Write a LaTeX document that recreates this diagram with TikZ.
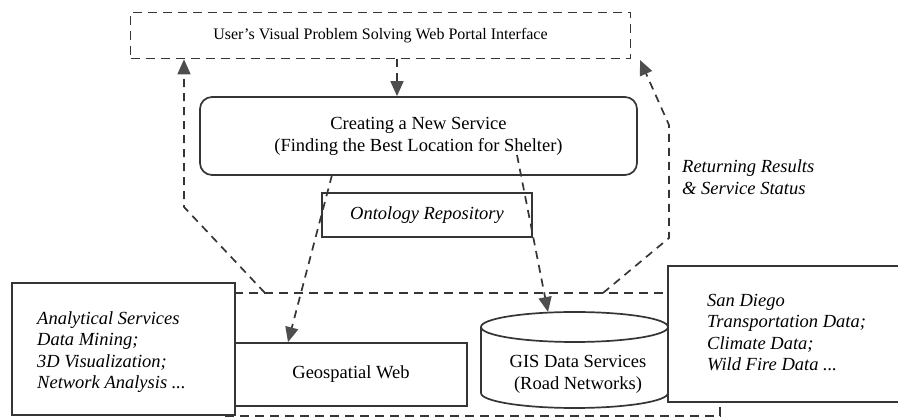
\documentclass[tikz,border=0pt]{standalone}
\usepackage{fontspec}
\setmainfont{Liberation Serif}
\usetikzlibrary{arrows.meta}

\definecolor{linecolor}{HTML}{353535}
\definecolor{tipcolor}{HTML}{4e4e4e}
\tikzstyle{box}=[
  draw=linecolor,
  fill=white,
  line width=1.7pt,
  inner sep=0pt,
  font=\fontsize{18.5}{22}\selectfont,
  align=center,
  ]
\tikzstyle{dashbox}=[ box, fill=none, dash pattern=on 9pt off 6pt ]
\tikzstyle{itext}=[ inner sep=0pt, anchor=west, align=left, font=\fontsize{18.5}{21.5}\selectfont\itshape ]
\tikzstyle{dashlink}=[ draw=linecolor, line width=1.7pt, dash pattern=on 8pt off 6pt ]
\tikzstyle{flow}=[ dashlink, -{Triangle[length=15pt,width=13pt,color=tipcolor]} ]

\begin{document}
\begin{tikzpicture}[x=1pt, y=1pt]
    \useasboundingbox (0,0) rectangle (898,-419);

    \node[dashbox, minimum width=500, minimum height=46, font=\fontsize{16}{20}\selectfont] (portal) at (380.5,-35.5) {User's Visual Problem Solving Web Portal Interface};
    \node[box, rounded corners=12, minimum width=437, minimum height=78] (service) at (418.5,-136) {Creating a New Service\\(Finding the Best Location for Shelter)};
    \coordinate (down) at (397,-59);
    \draw[flow] (down) -- (down |- service.north);

    \node[dashbox, minimum width=495, minimum height=123] (webframe) at (472.5,-354.5) {};

    \coordinate (lret1) at (265,-293);
    \coordinate (lret2) at (184,-207);
    \draw[flow] (lret1) -- (lret2) -- (lret2 |- portal.south);

    \coordinate (rret1) at (603,-293);
    \coordinate (rret2) at (669,-238);
    \coordinate (rret3) at (669,-125);
    \coordinate (rret4) at (640,-60);
    \draw[flow] (rret1) -- (rret2) -- (rret3) -- (rret4);
    \node[itext] (status) at (682,-177) {Returning Results\\\& Service Status};

    \node[box, minimum width=223, minimum height=132] (analytic) at (123.5,-349) {};
    \node[itext] (analytictext) at (37,-352) {Analytical Services\\Data Mining;\\3D Visualization;\\Network Analysis ...};

    \node[box, minimum width=232, minimum height=63] (geo) at (351,-374.5) {Geospatial Web};

    \fill[white] (481,-327) -- (481,-393) arc[start angle=180, end angle=360, x radius=93.5, y radius=15] -- (668,-327) -- cycle;
    \draw[draw=linecolor, line width=1.7pt] (481,-327) -- (481,-393) arc[start angle=180, end angle=360, x radius=93.5, y radius=15] -- (668,-327);
    \draw[draw=linecolor, line width=1.7pt, fill=white] (574.5,-327) ellipse[x radius=93.5, y radius=15];
    \node[box, draw=none, fill=none] (gis) at (578,-374) {GIS Data Services\\(Road Networks)};

    \node[box, minimum width=242, minimum height=136] (sandiego) at (789,-334) {};
    \node[itext] (sandiegotext) at (707,-332.5) {San Diego\\Transportation Data;\\Climate Data;\\Wild Fire Data ...};

    \node[box, fill=none, minimum width=210, minimum height=44, font=\fontsize{18.5}{22}\selectfont\itshape] (onto) at (427,-215) {Ontology Repository};
    \coordinate (togeo) at (332,-175);
    \coordinate (togis) at (517,-155);
    \coordinate (gistop) at (548,-312);
    \draw[flow] (togeo) -- (288,-343 |- geo.north);
    \draw[flow] (togis) -- (gistop);
  \end{tikzpicture}
\end{document}
